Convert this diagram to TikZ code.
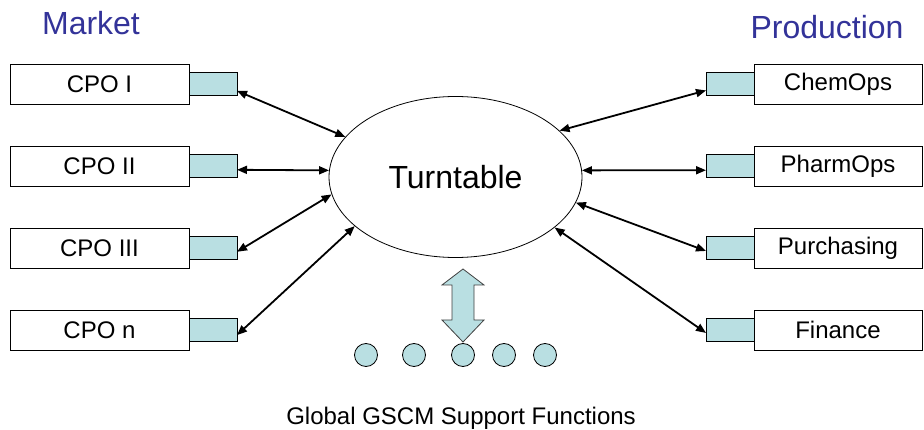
\documentclass[tikz,border=0pt]{standalone}
\usepackage{fontspec}
\setmainfont{Liberation Sans}
\usepackage{tikz}
\usetikzlibrary{shapes.geometric,arrows.meta,positioning}
\definecolor{tabcyan}{RGB}{185,223,226}
\definecolor{titleblue}{RGB}{51,51,153}

\begin{document}
\begin{tikzpicture}[x=1pt, y=-1pt, >={Triangle[length=10pt,width=8pt]}, line width=0.8pt]
  \tikzstyle{unit} = [rectangle, draw, fill=white, minimum height=40pt, outer sep=0pt, inner sep=0pt, font=\fontsize{24}{28}\selectfont]
  \tikzstyle{market} = [unit, minimum width=179pt]
  \tikzstyle{plant} = [unit, minimum width=168pt]
  \tikzstyle{port} = [rectangle, draw, fill=tabcyan, minimum width=48pt, minimum height=23pt, outer sep=0pt, inner sep=0pt]
  \tikzstyle{link} = [<->, line width=1.8pt]
  \tikzstyle{title} = [text=titleblue, font=\fontsize{32}{38}\selectfont]
  \tikzstyle{dot} = [circle, draw, fill=tabcyan, minimum size=23pt, inner sep=0pt]

  \useasboundingbox (0,0) rectangle (924,430);

  % headings
  \node[title, anchor=base] (mkt) at (91,35) {Market};
  \node[title, anchor=base] (prod) at (827,39) {Production};

  % hub
  \node[ellipse, draw, minimum width=253pt, minimum height=161pt, font=\fontsize{32}{38}\selectfont] (turn) at (455.5,177) {Turntable};

  % market side
  \node[market] (cpo1) at (99.5,84) {CPO I};
  \node[market] (cpo2) at (99.5,166) {CPO II};
  \node[market] (cpo3) at (99.5,248) {CPO III};
  \node[market] (cpon) at (99.5,330) {CPO n};
  \node[port, right=0pt of cpo1] (cpo1p) {};
  \node[port, right=0pt of cpo2] (cpo2p) {};
  \node[port, right=0pt of cpo3] (cpo3p) {};
  \node[port, right=0pt of cpon] (cponp) {};

  % production side
  \node[plant] (chem) at (838,84) {ChemOps};
  \node[plant] (pharm) at (838,166) {PharmOps};
  \node[plant] (purch) at (838,248) {Purchasing};
  \node[plant] (fin) at (838,330) {Finance};
  \node[port, left=0pt of chem] (chemp) {};
  \node[port, left=0pt of pharm] (pharmp) {};
  \node[port, left=0pt of purch] (purchp) {};
  \node[port, left=0pt of fin] (finp) {};

  % links to the turntable
  \draw[link] (cpo1p.-16) -- (turn.160);
  \draw[link] (cpo2p.-9) -- (turn.177);
  \draw[link] (cpo3p.-9) -- (turn.188);
  \draw[link] (cponp.-12) -- (turn.206);
  \draw[link] (chemp.195) -- (turn.24);
  \draw[link] (pharmp.190) -- (turn.3);
  \draw[link] (purchp.187) -- (turn.-12);
  \draw[link] (finp.187) -- (turn.-27);

  % support functions
  \draw[fill=tabcyan, draw=black!75] (463,269) -- (484,285) -- (474,285) -- (474,320) -- (484,320)
    -- (463,342) -- (442,320) -- (452,320) -- (452,285) -- (442,285) -- cycle;
  \foreach \x [count=\i] in {366,414,463,504,545}
    \node[dot] (sf\i) at (\x,355) {};
  \node[anchor=base, font=\fontsize{24}{28}\selectfont] (gscm) at (461,424) {Global GSCM Support Functions};
\end{tikzpicture}
\end{document}
